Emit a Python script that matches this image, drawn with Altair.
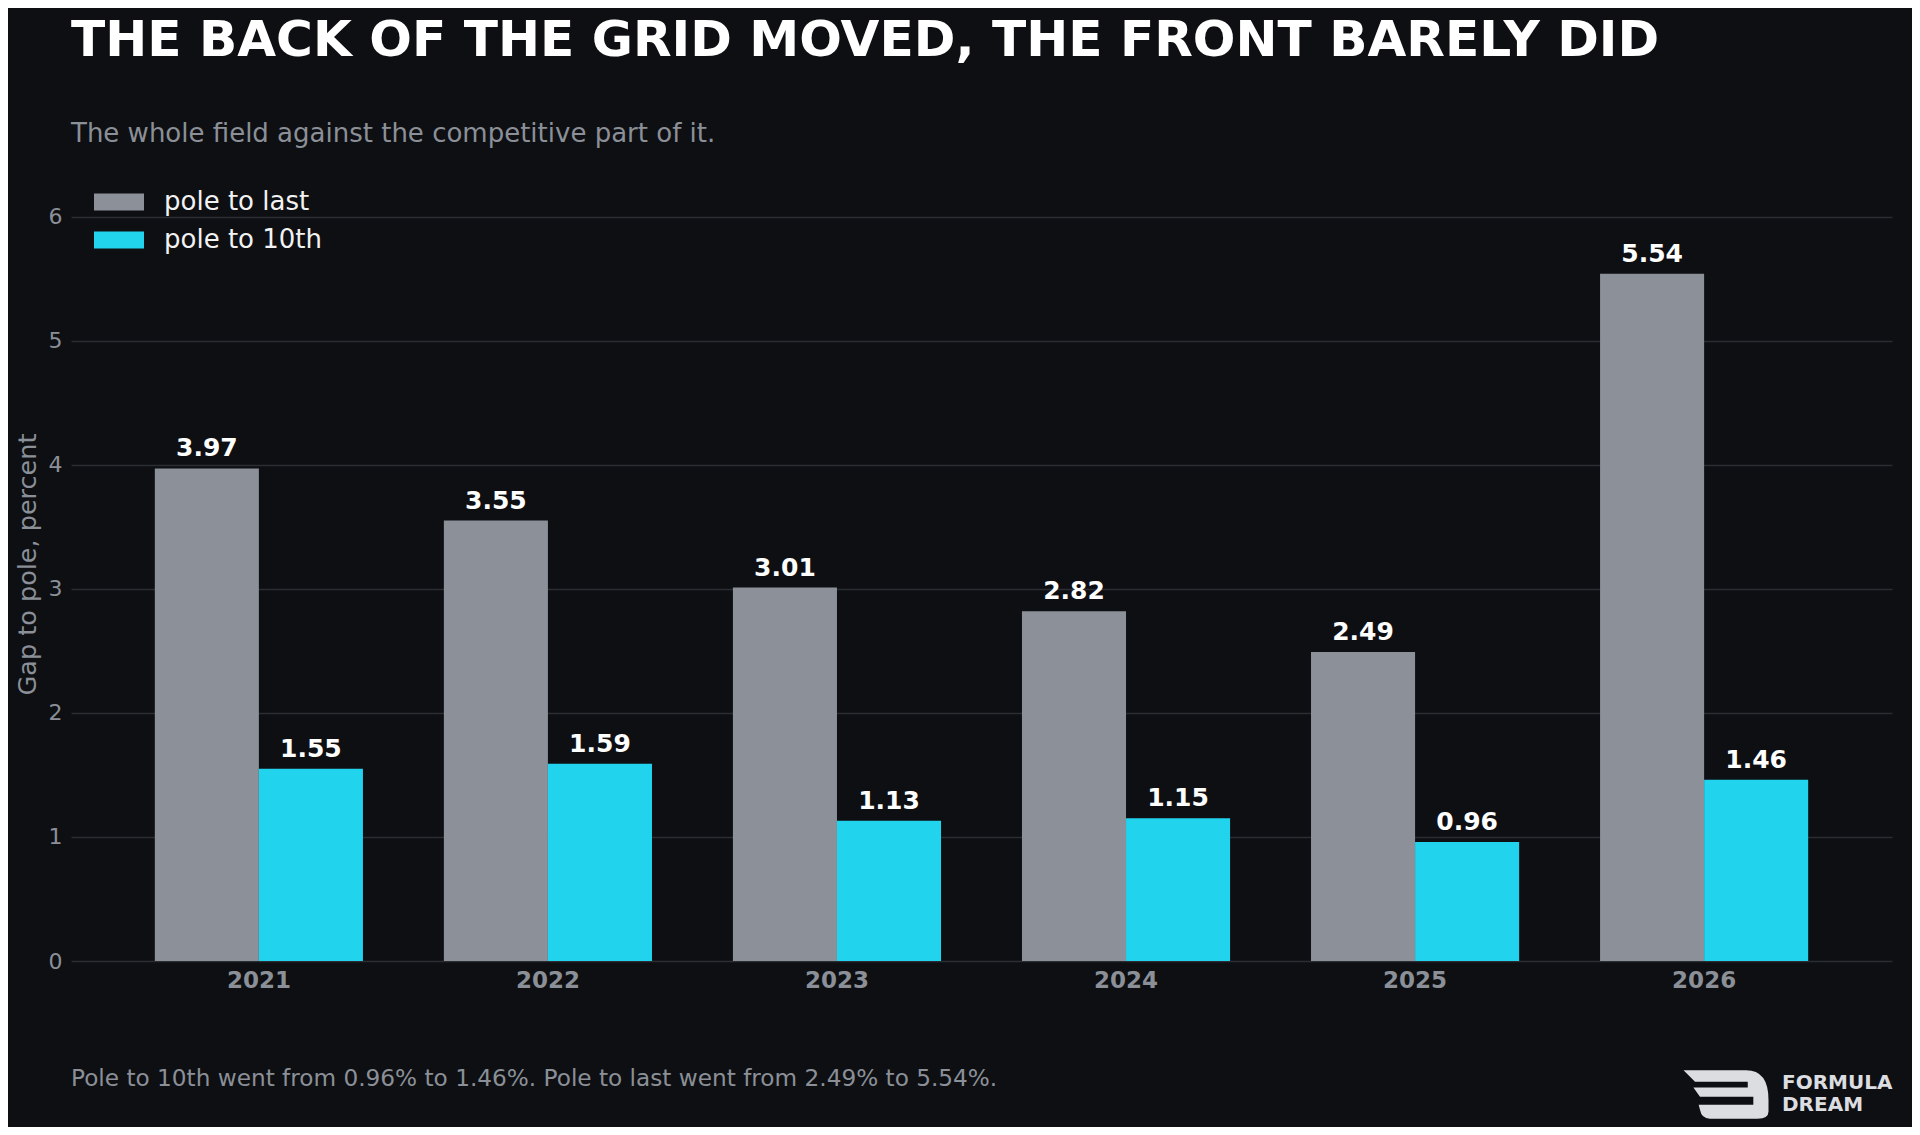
import altair as alt
import pandas as pd

# ---- data ----
years = ["2021", "2022", "2023", "2024", "2025", "2026"]
pole_to_last = [3.97, 3.55, 3.01, 2.82, 2.49, 5.54]
pole_to_10th = [1.55, 1.59, 1.13, 1.15, 0.96, 1.46]
series_names = ["pole to last", "pole to 10th"]
series_colors = ["#8b9099", "#22d3ee"]
y_ticks = [0, 1, 2, 3, 4, 5, 6]

title_text = "THE BACK OF THE GRID MOVED, THE FRONT BARELY DID"
subtitle_text = "The whole field against the competitive part of it."
footer_text = "Pole to 10th went from 0.96% to 1.46%. Pole to last went from 2.49% to 5.54%."
y_title = "Gap to pole, percent"
logo_lines = ["FORMULA", "DREAM"]

rows = []
for yr, a, b in zip(years, pole_to_last, pole_to_10th):
    rows.append({"year": yr, "series": series_names[0], "value": a})
    rows.append({"year": yr, "series": series_names[1], "value": b})
df = pd.DataFrame(rows)

BG = "#0e0f13"
GRAY_TXT = "#8b8f97"
FONT = "DejaVu Sans"
W, H = 1821, 794

legend_shape = "M-1,-0.34H1V0.34H-1Z"

base = alt.Chart(df).encode(
    x=alt.X(
        "year:N", sort=years, title=None,
        scale=alt.Scale(paddingInner=0.28, paddingOuter=0.29),
        axis=alt.Axis(labelFont=FONT, labelFontWeight="bold", labelFontSize=23,
                      labelColor=GRAY_TXT, labelPadding=8, ticks=False,
                      domain=False, grid=False, labelAngle=0),
    ),
    xOffset=alt.XOffset("series:N", sort=series_names,
                        scale=alt.Scale(paddingInner=0, paddingOuter=0)),
    y=alt.Y(
        "value:Q", title=y_title,
        scale=alt.Scale(domain=[0, 6.4], nice=False, zero=True),
        axis=alt.Axis(values=y_ticks, grid=True, gridColor="#2a2d33", gridWidth=1.5,
                      domain=False, ticks=False, labelFont=FONT, labelFontSize=22,
                      labelColor=GRAY_TXT, labelPadding=9, format="d",
                      titleFont=FONT, titleFontSize=25.5, titleFontWeight="normal",
                      titleColor=GRAY_TXT, titleX=-44, titleBaseline="middle"),
    ),
)

bars = base.mark_bar(strokeWidth=0).encode(
    color=alt.Color(
        "series:N", sort=series_names,
        scale=alt.Scale(domain=series_names, range=series_colors),
        legend=alt.Legend(orient="none", legendX=23, legendY=10, title=None,
                          symbolType=legend_shape, symbolSize=2500, symbolStrokeWidth=0,
                          symbolOpacity=1, labelFont=FONT, labelFontSize=26,
                          labelColor="#f2f2f2", labelOffset=20, rowPadding=0,
                          padding=0),
    )
)

labels = base.mark_text(font=FONT, fontWeight="bold", fontSize=25, color="#ffffff",
                        baseline="alphabetic", dy=-12).encode(
    text=alt.Text("value:Q", format=".2f")
)


def text_layer(txt, x, y, **kw):
    return alt.Chart(pd.DataFrame({"t": [txt]})).mark_text(**kw).encode(
        x=alt.value(x), y=alt.value(y), text="t:N"
    )


title_l = text_layer(title_text, 0, -111, font=FONT, fontWeight="bold", fontSize=50.2,
                     color="#ffffff", align="left", baseline="alphabetic")
subtitle_l = text_layer(subtitle_text, 0, -25, font=FONT, fontSize=26, color=GRAY_TXT,
                        align="left", baseline="alphabetic")
footer_l = text_layer(footer_text, 0, 919, font=FONT, fontSize=23.2, color=GRAY_TXT,
                      align="left", baseline="alphabetic")
logo1 = text_layer(logo_lines[0], 1711, 922, font=FONT, fontWeight="bold", fontSize=20,
                   color="#dcdde0", align="left", baseline="alphabetic")
logo2 = text_layer(logo_lines[1], 1711, 944, font=FONT, fontWeight="bold", fontSize=20,
                   color="#dcdde0", align="left", baseline="alphabetic")

icon_path = ("M-1,-0.57 L0.473,-0.57 Q1,-0.57 1,0.128 L1,0.4 Q1,0.57 0.744,0.57 "
             "L-0.38,0.57 Q-0.574,0.57 -0.612,0.36 L-0.643,0.244 L0.643,0.244 "
             "L0.643,0.05 L-0.612,0.05 L-0.767,-0.167 L0.512,-0.167 L0.512,-0.298 "
             "L-0.729,-0.298 Z")
icon = alt.Chart(pd.DataFrame({"t": ["logo"]})).mark_point(
    shape=icon_path, filled=True, size=7225, color="#dcdde0", opacity=1, strokeWidth=0
).encode(x=alt.value(1655), y=alt.value(927.5))

chart = alt.layer(bars, labels, title_l, subtitle_l, footer_l, icon, logo1, logo2).properties(
    width=W, height=H,
    background=BG,
    autosize=alt.AutoSizeParams(type="none"),
    padding={"left": 63, "top": 159, "right": 20, "bottom": 166},
).configure_view(stroke=None)

chart.save("out.html", embed_options={"renderer": "svg", "actions": False})
